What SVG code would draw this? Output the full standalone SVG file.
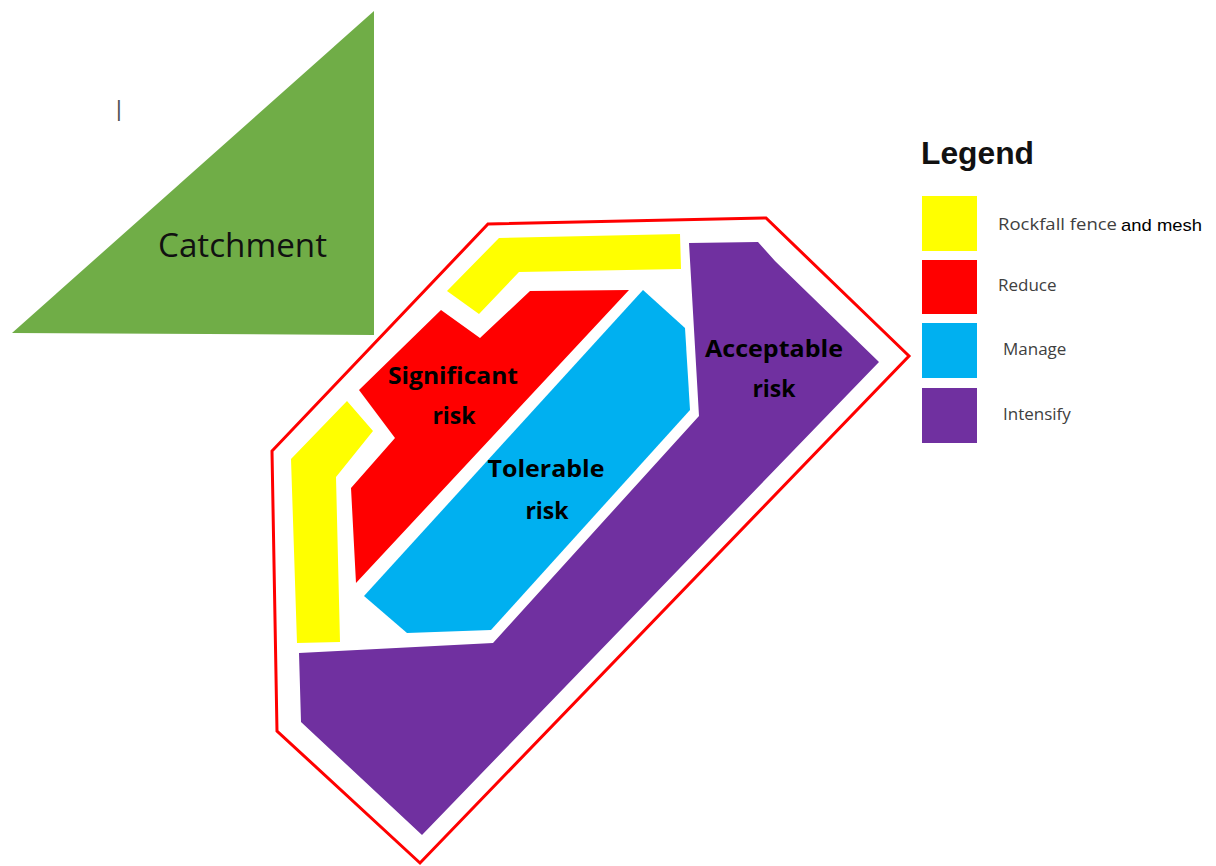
<svg xmlns="http://www.w3.org/2000/svg" width="1216" height="866" viewBox="0 0 1216 866">
<style>
.zone{font-family:"Open Sans","Liberation Sans",sans-serif;font-weight:bold;font-size:23px;fill:#000;text-anchor:middle}
.leg{font-family:"Open Sans","Liberation Sans",sans-serif;font-size:17px;fill:#404040}
.y{fill:#FFFF00}.r{fill:#FF0000}.b{fill:#00B0F0}.p{fill:#7030A0}
</style>
<rect width="1216" height="866" fill="#fff"/>
<text x="116" y="116" font-family="Liberation Sans,sans-serif" font-size="22" fill="#555">|</text>
<g id="catchment">
<polygon points="12,333 374,11 374,335" fill="#70AD47"/>
<text x="158" y="257" font-family="Open Sans,Liberation Sans,sans-serif" font-size="32" fill="#111" textLength="169" lengthAdjust="spacingAndGlyphs">Catchment</text>
</g>
<g id="boundary">
<polygon points="488,224 766,218 909,356 420,863 277,731 272,451" fill="none" stroke="#FF0000" stroke-width="3" stroke-linejoin="miter"/>
</g>
<g id="fence-top">
<polygon class="y" points="499,238 680,234 681,269 519,272 479,314 447,291"/>
</g>
<g id="fence-left">
<polygon class="y" points="347,401 373,431 336,477 340,642 297,643 291,459"/>
</g>
<g id="significant">
<polygon class="r" points="530,291 629,290 356,583 351,488 395,438 359,390 441,310 480,338"/>
<text class="zone" x="453" y="384" textLength="130" lengthAdjust="spacingAndGlyphs">Significant</text>
<text class="zone" x="454" y="424">risk</text>
</g>
<g id="tolerable">
<polygon class="b" points="643,290 685,328 690,410 491,630 407,633 364,596"/>
<text class="zone" x="546" y="477" textLength="117" lengthAdjust="spacingAndGlyphs">Tolerable</text>
<text class="zone" x="547" y="519">risk</text>
</g>
<g id="acceptable">
<polygon class="p" points="689,243 758,242 775,261 879,362 422,835 301,722 299,653 493,643 699,416"/>
<text class="zone" x="774" y="357" textLength="138" lengthAdjust="spacingAndGlyphs">Acceptable</text>
<text class="zone" x="774" y="397">risk</text>
</g>
<g id="legend">
<text x="921" y="164" font-family="Liberation Sans,sans-serif" font-weight="bold" font-size="31" fill="#111" textLength="113" lengthAdjust="spacingAndGlyphs">Legend</text>
<g id="legend-fence">
<rect class="y" x="922" y="196" width="55" height="55"/>
<text class="leg" x="998" y="230" textLength="119" lengthAdjust="spacingAndGlyphs">Rockfall fence</text>
<text x="1121" y="231" font-family="Liberation Sans,sans-serif" font-size="17" fill="#000" textLength="81" lengthAdjust="spacingAndGlyphs">and mesh</text>
</g>
<g id="legend-reduce">
<rect class="r" x="922" y="260" width="55" height="54"/>
<text class="leg" x="998" y="291">Reduce</text>
</g>
<g id="legend-manage">
<rect class="b" x="922" y="323" width="55" height="55"/>
<text class="leg" x="1003" y="355">Manage</text>
</g>
<g id="legend-intensify">
<rect class="p" x="922" y="388" width="55" height="55"/>
<text class="leg" x="1003" y="420">Intensify</text>
</g>
</g>
</svg>
